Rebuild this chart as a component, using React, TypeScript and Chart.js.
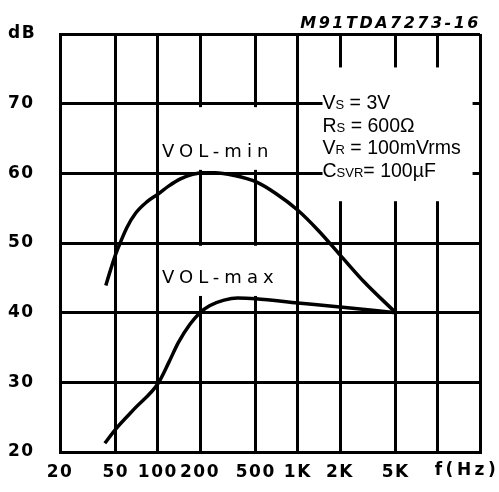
import React, { useEffect, useRef } from 'react';
import { Chart, registerables } from 'chart.js';

Chart.register(...registerables);

// ---- data ----
const xTicks = [20, 50, 100, 200, 500, 1000, 2000, 5000, 10000, 20000];
const xTickLabels = ['20', '50', '100', '200', '500', '1K', '2K', '5K', '', ''];
const yTicks = [20, 30, 40, 50, 60, 70, 80];
const yTickLabels = ['20', '30', '40', '50', '60', '70', 'dB'];

const volMinFreq = [42.5, 45.7, 50, 54.3, 60, 69.5, 83.4, 100, 120, 145, 177, 207, 256, 351, 500, 696, 1000, 1400, 2000, 2980, 5000];
const volMinDb = [43.9, 46.0, 48.4, 50.2, 52.2, 54.3, 55.9, 57.0, 58.2, 59.2, 59.85, 60.1, 60.1, 59.7, 58.8, 57.1, 54.7, 51.8, 48.3, 44.4, 40.0];

const volMaxFreq = [41.8, 50, 69.5, 100, 120, 140, 169, 200, 234, 297, 372, 500, 1000, 2000, 5000];
const volMaxDb = [21.25, 23.3, 26.4, 29.8, 32.9, 35.7, 38.3, 40.0, 41.0, 41.8, 42.1, 42.0, 41.4, 40.8, 40.0];

const seriesNames = ['VOL-min', 'VOL-max'];
const conditionMain = ['V', 'R', 'V', 'C'];
const conditionSub = ['S', 'S', 'R', 'SVR'];
const conditionRest = [' = 3V', ' = 600Ω', ' = 100mVrms', '= 100µF'];
const chartCode = 'M91TDA7273-16';
const xAxisName = 'f(Hz)';

export default function App() {
  const ref = useRef<HTMLCanvasElement>(null);

  useEffect(() => {
    const canvas = ref.current;
    if (!canvas) return;

    const overlay = {
      id: 'overlay',
      beforeDraw(chart: any) {
        chart.ctx.letterSpacing = '1.5px';
      },
      beforeDatasetsDraw(chart: any) {
        const ctx = chart.ctx;
        const xs = chart.scales.x;
        const ys = chart.scales.y;
        // blank areas of the grid behind the labels (data coordinates)
        const boxes = [
          [1500, 17700, 75.2, 56],
          [115, 870, 69.5, 60.5],
          [115, 870, 49.6, 42.4],
        ];
        ctx.save();
        ctx.fillStyle = '#fff';
        for (const [f1, f2, d1, d2] of boxes) {
          const x1 = xs.getPixelForValue(f1);
          const x2 = xs.getPixelForValue(f2);
          const y1 = ys.getPixelForValue(d1);
          const y2 = ys.getPixelForValue(d2);
          ctx.fillRect(x1, y1, x2 - x1, y2 - y1);
        }
        ctx.restore();
      },
      afterDatasetsDraw(chart: any) {
        const ctx = chart.ctx;
        const xs = chart.scales.x;
        const ys = chart.scales.y;
        const area = chart.chartArea;
        ctx.save();
        ctx.fillStyle = '#000';

        // conditions text block
        const x0 = xs.getPixelForValue(1500);
        const b1 = ys.getPixelForValue(70) + 5;
        const b4 = ys.getPixelForValue(60) + 4;
        const step = (b4 - b1) / 3;
        ctx.letterSpacing = '0px';
        ctx.textBaseline = 'alphabetic';
        ctx.textAlign = 'left';
        for (let i = 0; i < conditionMain.length; i++) {
          const by = b1 + step * i;
          let x = x0;
          ctx.font = '19.5px "Liberation Sans", Arial, sans-serif';
          ctx.fillText(conditionMain[i], x, by);
          x += ctx.measureText(conditionMain[i]).width;
          ctx.font = '13px "Liberation Sans", Arial, sans-serif';
          ctx.fillText(conditionSub[i], x, by);
          x += ctx.measureText(conditionSub[i]).width;
          ctx.font = '19.5px "Liberation Sans", Arial, sans-serif';
          ctx.fillText(conditionRest[i], x, by);
        }

        // series labels
        ctx.font = '18px "DejaVu Sans", sans-serif';
        ctx.letterSpacing = '5px';
        ctx.textBaseline = 'middle';
        ctx.fillText(seriesNames[0], xs.getPixelForValue(107), ys.getPixelForValue(63.0));
        ctx.fillText(seriesNames[1], xs.getPixelForValue(107), ys.getPixelForValue(45.0));

        // chart code
        ctx.font = 'italic bold 16px "DejaVu Sans", sans-serif';
        ctx.letterSpacing = '2.5px';
        ctx.textAlign = 'right';
        ctx.textBaseline = 'alphabetic';
        ctx.fillText(chartCode, area.right + 1, area.top - 6);

        // axis name
        ctx.font = 'bold 17px "DejaVu Sans", sans-serif';
        ctx.letterSpacing = '3.5px';
        ctx.textAlign = 'center';
        ctx.textBaseline = 'middle';
        ctx.fillText(xAxisName, area.right - 13, area.bottom + 19);
        ctx.restore();
      },
    };

    const tickFont = { family: '"DejaVu Sans", sans-serif', size: 17, weight: 'bold' as const };

    const chart = new Chart(canvas, {
      type: 'line',
      data: {
        datasets: [
          {
            label: seriesNames[0],
            data: volMinFreq.map((f, i) => ({ x: f, y: volMinDb[i] })),
            borderColor: '#000',
            borderWidth: 3.5,
            pointRadius: 0,
            cubicInterpolationMode: 'monotone',
            fill: false,
          },
          {
            label: seriesNames[1],
            data: volMaxFreq.map((f, i) => ({ x: f, y: volMaxDb[i] })),
            borderColor: '#000',
            borderWidth: 3.5,
            pointRadius: 0,
            cubicInterpolationMode: 'monotone',
            fill: false,
          },
        ],
      },
      options: {
        responsive: false,
        animation: false,
        events: [],
        layout: { padding: { left: 8, top: 34, right: 19, bottom: 0 } },
        plugins: { legend: { display: false }, tooltip: { enabled: false }, title: { display: false } },
        scales: {
          x: {
            type: 'logarithmic',
            min: 20,
            max: 20000,
            afterBuildTicks: (s: any) => {
              s.ticks = xTicks.map((v) => ({ value: v }));
            },
            afterFit: (s: any) => {
              s.height = 40;
              s.paddingLeft = 0;
              s.paddingRight = 0;
            },
            ticks: {
              autoSkip: false,
              maxRotation: 0,
              minRotation: 0,
              padding: 10,
              color: '#000',
              font: tickFont,
              callback: (_v: any, i: number) => xTickLabels[i],
            },
            grid: { color: '#000', lineWidth: 3, drawTicks: false },
            border: { display: true, color: '#000', width: 3 },
          },
          y: {
            type: 'linear',
            min: 20,
            max: 80,
            afterBuildTicks: (s: any) => {
              s.ticks = yTicks.map((v) => ({ value: v }));
            },
            afterFit: (s: any) => {
              s.width = 52;
              s.paddingTop = 0;
              s.paddingBottom = 0;
            },
            ticks: {
              crossAlign: 'far',
              padding: 0,
              color: '#000',
              font: tickFont,
              callback: (_v: any, i: number) => yTickLabels[i],
            },
            grid: { color: '#000', lineWidth: 3, drawTicks: false },
            border: { display: true, color: '#000', width: 3 },
          },
        },
      },
      plugins: [overlay],
    } as any);

    return () => chart.destroy();
  }, []);

  return (
    <div style={{ position: 'absolute', left: 0, top: 0, width: 499, height: 492, background: '#fff' }}>
      <canvas ref={ref} width={499} height={492} style={{ display: 'block' }} />
    </div>
  );
}
